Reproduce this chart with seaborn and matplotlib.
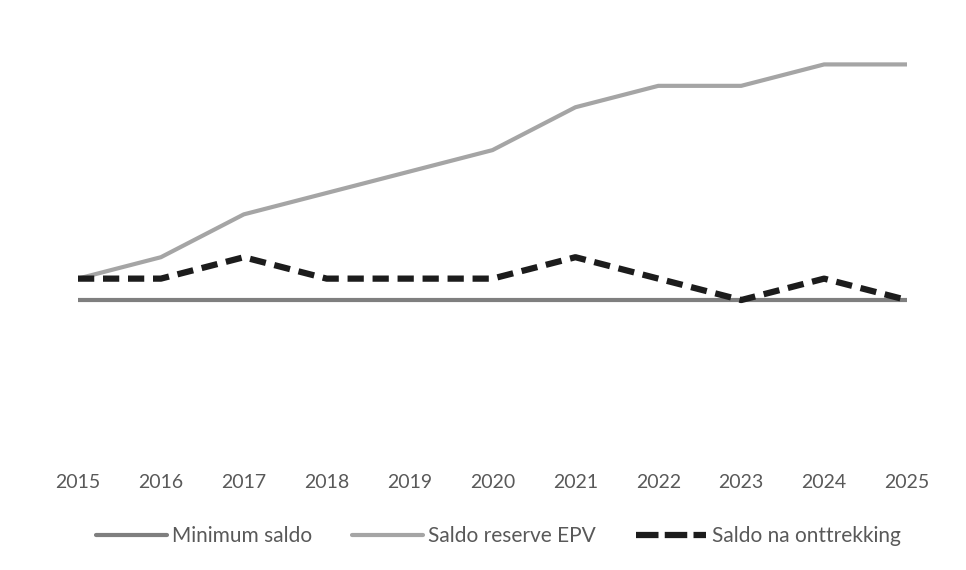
import numpy as np
import matplotlib
matplotlib.use("Agg")
import matplotlib.pyplot as plt
import seaborn as sns
import pandas as pd

years = [2015, 2016, 2017, 2018, 2019, 2020, 2021, 2022, 2023, 2024, 2025]
minimum_saldo = [0, 0, 0, 0, 0, 0, 0, 0, 0, 0, 0]
saldo_reserve = [1, 2, 4, 5, 6, 7, 9, 10, 10, 11, 11]
saldo_na = [1, 1, 2, 1, 1, 1, 2, 1, 0, 1, 0]

df = pd.DataFrame({'jaar': years, 'min': minimum_saldo,
                   'reserve': saldo_reserve, 'na': saldo_na})

sns.set_style("white")
plt.rcParams['font.family'] = ['Lato', 'DejaVu Sans']

fig = plt.figure(figsize=(9.66, 5.7), dpi=100)
ax = fig.add_axes([78/966, 1-450/570, (907-78)/966, (450-43)/570])

sns.lineplot(data=df, x='jaar', y='min', ax=ax, color='#7f7f7f', lw=3,
             label='Minimum saldo')
sns.lineplot(data=df, x='jaar', y='reserve', ax=ax, color='#a5a5a5', lw=3,
             label='Saldo reserve EPV')
sns.lineplot(data=df, x='jaar', y='na', ax=ax, color='#1c1c1c', lw=4.5,
             label='Saldo na onttrekking')
ax.lines[2].set_dashes((2.6, 1.4))

ax.set_xlim(2015, 2025)
ax.set_ylim(-7, 12)
ax.set_xticks(years)
ax.set_xticklabels([str(y) for y in years], color='#595959', fontsize=14)
ax.tick_params(axis='x', length=0, pad=17)
ax.set_yticks([])
ax.set_xlabel('')
ax.set_ylabel('')
for s in ax.spines.values():
    s.set_visible(False)

leg = ax.legend(loc='center', bbox_to_anchor=(0.516, 0.06), bbox_transform=fig.transFigure,
                ncol=3, frameon=False, fontsize=15, handlelength=3.4,
                handletextpad=0.25, columnspacing=1.9, labelcolor='#595959')
leg.get_lines()[2].set_dashes((3.6, 1.0))

fig.savefig('out.png', dpi=100)
